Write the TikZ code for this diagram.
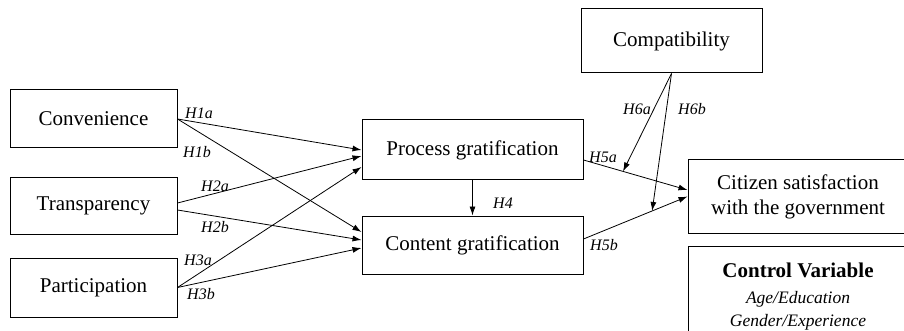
\documentclass[tikz,border=0pt]{standalone}
\usepackage{fontspec}
\setmainfont{Liberation Serif}
\usetikzlibrary{ arrows.meta, % For the filled arrow tips
                 positioning, % For easy node-relative placements
               }
\tikzstyle{box} = [rectangle, draw=black, line width=1pt, text centered, align=center, inner sep=0pt, font=\fontsize{21}{25}\selectfont]
\tikzstyle{link} = [-{Latex[length=9pt, width=6pt]}, line width=0.8pt]
\tikzstyle{hyp} = [inner sep=0pt, font=\fontsize{16}{18}\selectfont\itshape]
\newcommand{\ctrlfont}{\fontsize{17.5}{20}\selectfont\itshape}

\begin{document}
\begin{tikzpicture}[x=1pt, y=-1pt]
  \useasboundingbox (0,0) rectangle (904,331);
  \clip (0,0) rectangle (904,331);
  % Antecedents
  \node (conv) [box, minimum width=167pt, minimum height=58pt] at (93.5, 119) {Convenience};
  \node (trans) [box, minimum width=167pt, minimum height=56pt] at (93.5, 206) {Transparency};
  \node (part) [box, minimum width=167pt, minimum height=59pt] at (93.5, 287.5) {Participation};
  % Gratifications
  \node (proc) [box, minimum width=221pt, minimum height=60pt] at (472.5, 150) {Process gratification};
  \node (cont) [box, minimum width=221pt, minimum height=58pt] at (472.5, 245) {Content gratification};
  \node (compat) [box, minimum width=181pt, minimum height=64pt] at (671.5, 41) {Compatibility};
  % Outcome and controls
  \node (citizen) [box, minimum width=220pt, minimum height=73pt] at (798, 196.5) {Citizen satisfaction\\with the government};
  \node (control) [box, minimum width=220pt, minimum height=100pt, anchor=north] at (798, 246)
    {\textbf{Control Variable}\\[1pt]
     \ctrlfont Age/Education\\[-2pt]\ctrlfont Gender/Experience};

  \draw [link] (conv.east) -- (proc.west);
  \draw [link] (conv.east) -- ([yshift=13pt]cont.west);
  \draw [link] ([yshift=3pt]trans.east) -- ([yshift=-6pt]proc.west);
  \draw [link] ([yshift=-4pt]trans.east) -- ([yshift=5pt]cont.west);
  \draw [link] (part.east) -- ([yshift=-17pt]proc.west);
  \draw [link] (part.east) -- ([yshift=-3pt]cont.west);
  \draw [link] (proc.south) -- (cont.north);
  \draw [link] ([yshift=-10pt]proc.east) -- coordinate[pos=0.38] (m5a) ([yshift=6.5pt]citizen.west);
  \draw [link] ([yshift=6pt]cont.east) -- coordinate[pos=0.66] (m5b) (citizen.west);
  \draw [link] (compat.south) -- (m5a);
  \draw [link] (compat.south) -- (m5b);

  % Hypothesis labels
  \node (h1a) [hyp] at (199, 113) {H1a};
  \node (h1b) [hyp] at (197, 152) {H1b};
  \node (h2a) [hyp] at (215, 186) {H2a};
  \node (h2b) [hyp] at (215, 227) {H2b};
  \node (h3a) [hyp] at (198, 260) {H3a};
  \node (h3b) [hyp] at (201, 294) {H3b};
  \node (h4) [hyp] at (503, 203) {H4};
  \node (h5a) [hyp] at (603, 157) {H5a};
  \node (h5b) [hyp] at (604, 245) {H5b};
  \node (h6a) [hyp] at (637, 109) {H6a};
  \node (h6b) [hyp] at (692, 109) {H6b};
\end{tikzpicture}
\end{document}
